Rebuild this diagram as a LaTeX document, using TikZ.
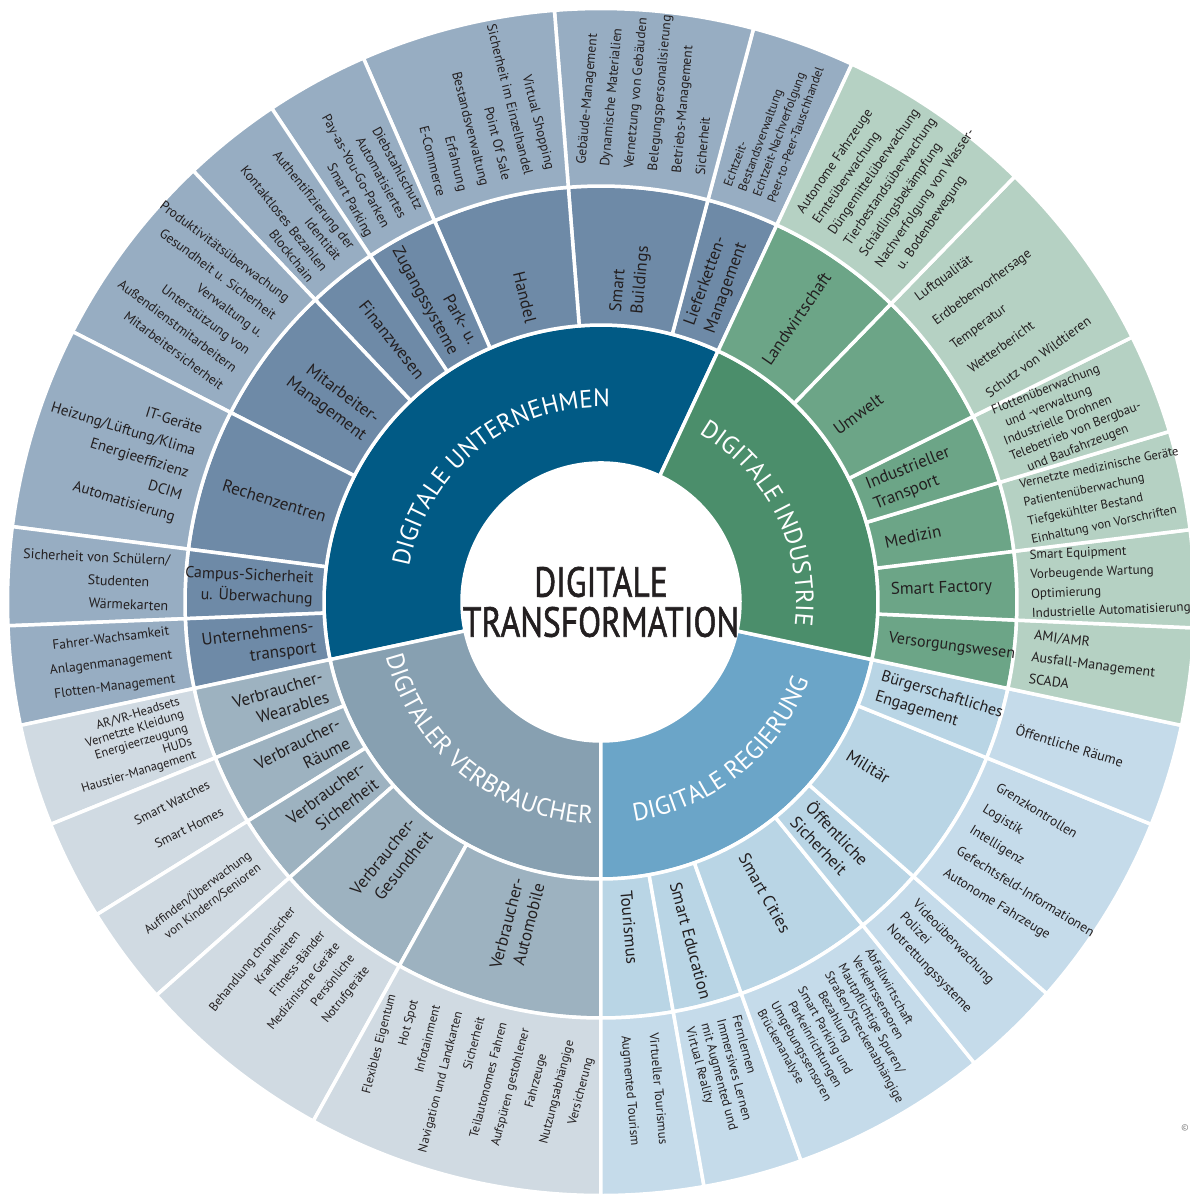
\documentclass[tikz,border=0pt]{standalone}
\usepackage{fontspec}
\setmainfont{PT Sans}
\newfontfamily\ctrfont{PT Sans}[FakeBold=1.5]
\usetikzlibrary{decorations.text}

\definecolor{untA}{HTML}{015A85}
\definecolor{untB}{HTML}{6E8AA7}
\definecolor{untC}{HTML}{97ADC2}
\definecolor{verA}{HTML}{87A0B1}
\definecolor{verB}{HTML}{9DB2C0}
\definecolor{verC}{HTML}{D0DAE2}
\definecolor{regA}{HTML}{6BA5C8}
\definecolor{regB}{HTML}{B9D5E5}
\definecolor{regC}{HTML}{C5DBEA}
\definecolor{indA}{HTML}{4B8E6B}
\definecolor{indB}{HTML}{6CA587}
\definecolor{indC}{HTML}{B5D1C3}
\definecolor{ink}{HTML}{231F20}

\newcommand{\ringpart}[5]{\path[part, fill=#1] (#2:#4) arc[start angle=#2, end angle=#3, radius=#4] -- (#3:#5) arc[start angle=#3, end angle=#2, radius=#5] -- cycle;}
\newcommand{\segpart}[4]{\ringpart{#1}{#3}{#4}{277}{416}\ringpart{#2}{#3}{#4}{416}{593.5}}
\newcommand{\fs}[2]{\fontsize{#1}{#2}\selectfont}

\begin{document}
\begin{tikzpicture}[x=1pt, y=1pt,
    part/.style={draw=white, line width=3.5pt, line join=round},
    quadlbl/.style={decorate, decoration={text along path, text align=center, text color=white}},
    midlbl/.style={text=ink, inner sep=0pt, font=\fs{17}{21.5}},
    midl/.style={midlbl, anchor=east, align=right},
    midr/.style={midlbl, anchor=west, align=left},
    outlbl/.style={text=ink, inner sep=0pt},
    outl/.style={outlbl, anchor=east, align=right},
    outr/.style={outlbl, anchor=west, align=left}]

\useasboundingbox (-601,-593) rectangle (589,602);

% quadrants
\ringpart{untA}{65}{192}{139}{277}
\ringpart{verA}{192}{270}{139}{277}
\ringpart{regA}{270}{348}{139}{277}
\ringpart{indA}{-12}{65}{139}{277}

% Unternehmen
\segpart{untB}{untC}{65}{75.1}
\segpart{untB}{untC}{75.1}{94.5}
\segpart{untB}{untC}{94.5}{113.6}
\segpart{untB}{untC}{113.6}{123.7}
\segpart{untB}{untC}{123.7}{133.4}
\segpart{untB}{untC}{133.4}{152.9}
\segpart{untB}{untC}{152.9}{172.7}
\segpart{untB}{untC}{172.7}{182.3}
\segpart{untB}{untC}{182.3}{192}
% Verbraucher
\segpart{verB}{verC}{192}{202}
\segpart{verB}{verC}{202}{211.8}
\segpart{verB}{verC}{211.8}{221.5}
\segpart{verB}{verC}{221.5}{241}
\segpart{verB}{verC}{241}{270}
% Regierung
\segpart{regB}{regC}{270}{280}
\segpart{regB}{regC}{280}{289.7}
\segpart{regB}{regC}{289.7}{309}
\segpart{regB}{regC}{309}{318.7}
\segpart{regB}{regC}{318.7}{338}
\segpart{regB}{regC}{338}{348}
% Industrie
\segpart{indB}{indC}{-12}{-2.5}
\segpart{indB}{indC}{-2.5}{7}
\segpart{indB}{indC}{7}{16.7}
\segpart{indB}{indC}{16.7}{26.5}
\segpart{indB}{indC}{26.5}{45.8}
\segpart{indB}{indC}{45.8}{65}

% centre
\node[text=ink, font=\ctrfont\fs{42}{40}, align=center] (dtrans) at (0,0)
  {\scalebox{0.8}[1]{DIGITALE}\\\scalebox{0.8}[1]{TRANSFORMATION}};

% quadrant titles
\path[quadlbl, decoration={text={|\fontsize{25}{25}\selectfont|DIGITALE UNTERNEHMEN}}]
  (192:195) arc[start angle=192, end angle=65, radius=195];
\path[quadlbl, decoration={text={|\fontsize{25}{25}\selectfont|DIGITALE INDUSTRIE}}]
  (65:195) arc[start angle=65, end angle=-12, radius=195];
\path[quadlbl, decoration={text={|\fontsize{25}{25}\selectfont|DIGITALER VERBRAUCHER}}]
  (192:222) arc[start angle=192, end angle=270, radius=222];
\path[quadlbl, decoration={text={|\fontsize{25}{25}\selectfont|DIGITALE REGIERUNG}}]
  (270:222) arc[start angle=270, end angle=348, radius=222];

% fields
\node[midr, rotate=70.05] (liefer) at (70.05:290) {Lieferketten-\\Management};
\node[midr, rotate=84.8] (build) at (84.8:290) {Smart\\Buildings};
\node[midl, rotate=104.05-180] (handel) at (104.05:288) {Handel};
\node[midl, rotate=118.65-180] (park) at (118.65:288) {Park- u.\\Zugangssysteme};
\node[midl, rotate=128.55-180] (finanz) at (128.55:288) {Finanzwesen};
\node[midl, rotate=143.15-180] (mitarb) at (143.15:288) {Mitarbeiter-\\Management};
\node[midl, rotate=162.8-180] (rechen) at (162.8:288) {Rechenzentren};
\node[midl, rotate=177.5-180, font=\fs{16}{21}] (campus) at (177.5:288) {Campus-Sicherheit\\u. Überwachung};
\node[midl, rotate=187.15-180] (utrans) at (187.15:288) {Unternehmens-\\transport};
\node[midl, rotate=197-180] (wear) at (197:288) {Verbraucher-\\Wearables};
\node[midl, rotate=206.9-180] (raeume) at (206.9:288) {Verbraucher-\\Räume};
\node[midl, rotate=216.65-180] (vsich) at (216.65:288) {Verbraucher-\\Sicherheit};
\node[midl, rotate=231.25-180] (gesund) at (231.25:288) {Verbraucher-\\Gesundheit};
\node[midl, rotate=255.5-180] (auto) at (255.5:288) {Verbraucher-\\Automobile};
\node[midr, rotate=275] (tour) at (275:290) {Tourismus};
\node[midr, rotate=284.85] (edu) at (284.85:290) {Smart Education};
\node[midr, rotate=299.35] (city) at (299.35:290) {Smart Cities};
\node[midr, rotate=313.85] (osich) at (313.85:290) {Öffentliche\\Sicherheit};
\node[midr, rotate=328.35] (mil) at (328.35:290) {Militär};
\node[midr, rotate=343, font=\fs{16}{21}] (buerger) at (343:290) {Bürgerschaftliches\\Engagement};
\node[midr, rotate=-7.25, font=\fs{16}{21}] (versorg) at (-7.25:290) {Versorgungswesen};
\node[midr, rotate=2.25] (factory) at (2.25:290) {Smart Factory};
\node[midr, rotate=11.85] (medizin) at (11.85:290) {Medizin};
\node[midr, rotate=21.6] (itrans) at (21.6:290) {Industrieller\\Transport};
\node[midr, rotate=36.15] (umwelt) at (36.15:290) {Umwelt};
\node[midr, rotate=55.4] (land) at (55.4:290) {Landwirtschaft};

% applications
\node[outr, rotate=70.05, font=\fs{12.5}{15.5}] (lieferout) at (70.05:434)
  {Echtzeit-\\Bestandsverwaltung\\Echtzeit-Nachverfolgung\\Peer-to-Peer-Tauschhandel};
\node[outr, rotate=84.8, font=\fs{13.5}{24}] (buildout) at (84.8:434)
  {Gebäude-Management\\Dynamische Materialien\\Vernetzung von Gebäuden\\Belegungspersonalisierung\\Betriebs-Management\\Sicherheit};
\node[outl, rotate=104.05-180, font=\fs{13.5}{22.5}] (handelout) at (104.05:432)
  {Virtual Shopping\\Sicherheit im Einzelhandel\\Point Of Sale\\Bestandsverwaltung\\Erfahrung\\E-Commerce};
\node[outl, rotate=118.65-180, font=\fs{13.5}{19}] (parkout) at (118.65:432)
  {Diebstahlschutz\\Automatisiertes\\Pay-as-You-Go-Parken\\Smart Parking};
\node[outl, rotate=128.55-180, font=\fs{13.5}{17.5}] (finanzout) at (128.55:432)
  {Authentifizierung der\\Identität\\Kontaktloses Bezahlen\\Blockchain};
\node[outl, rotate=143.15-180, font=\fs{13.5}{22}] (mitarbout) at (143.15:432)
  {Produktivitätsüberwachung\\Gesundheit u. Sicherheit\\Verwaltung u.\\Unterstützung von\\Außendienstmitarbeitern\\Mitarbeitersicherheit};
\node[outl, rotate=162.8-180, font=\fs{15}{23}] (rechenout) at (162.8:432)
  {IT-Geräte\\Heizung/Lüftung/Klima\\Energieeffizienz\\DCIM\\Automatisierung};
\node[outl, rotate=177.5-180, font=\fs{14}{23}] (campusout) at (177.5:432)
  {Sicherheit von Schülern/\\Studenten\kern20pt\\Wärmekarten};
\node[outl, rotate=187.15-180, font=\fs{13.5}{24}] (utransout) at (187.15:432)
  {Fahrer-Wachsamkeit\\Anlagenmanagement\\Flotten-Management};
\node[outl, rotate=197-180, font=\fs{12.5}{14}] (wearout) at (197:432)
  {AR/VR-Headsets\\Vernetzte Kleidung\\Energieerzeugung\\HUDs\\Haustier-Management};
\node[outl, rotate=206.9-180, font=\fs{13}{30}] (raeumeout) at (206.9:432)
  {Smart Watches\\Smart Homes};
\node[outl, rotate=216.65-180, font=\fs{12.5}{16}] (vsichout) at (216.65:432)
  {Auffinden/Überwachung\\von Kindern/Senioren};
\node[outl, rotate=231.25-180, font=\fs{12.5}{19}] (gesundout) at (231.25:432)
  {Behandlung chronischer\\Krankheiten\kern16pt\\Fitness-Bänder\\Medizinische Geräte\\Persönliche\\Notrufgeräte};
\node[outl, rotate=255.5-180, font=\fs{12.5}{23}] (autoout) at (255.5:432)
  {Flexibles Eigentum\\Hot Spot\\Infotainment\\Navigation und Landkarten\\Sicherheit\\Teilautonomes Fahren\\Aufspüren gestohlener\\Fahrzeuge\kern20pt\\Nutzungsabhängige\\Versicherung\kern12pt};
\node[outr, rotate=275, font=\fs{13}{28}] (tourout) at (275:434)
  {Virtueller Tourismus\\Augmented Tourism};
\node[outr, rotate=284.85, font=\fs{13}{16}] (eduout) at (284.85:434)
  {Fernlernen\\Immersives Lernen\\mit Augmented und\\Virtual Reality};
\node[outr, rotate=299.35, font=\fs{12.5}{15.5}] (cityout) at (299.35:434)
  {Abfallwirtschaft\\Verkehrssensoren\\Mautpflichtige Spuren/\\Straßen/Streckenabhängige\\\hspace*{14pt}Bezahlung\\Smart Parking und\\\hspace*{8pt}Parkeinrichtungen\\Umgebungssensoren\\Brückenanalyse};
\node[outr, rotate=313.85, font=\fs{13.5}{18}] (osichout) at (313.85:434)
  {Videoüberwachung\\Polizei\\Notrettungssysteme};
\node[outr, rotate=328.35, font=\fs{13.5}{25}] (milout) at (328.35:434)
  {Grenzkontrollen\\Logistik\\Intelligenz\\Gefechtsfeld-Informationen\\Autonome Fahrzeuge};
\node[outr, rotate=343, font=\fs{14}{18}] (buergerout) at (343:434)
  {Öffentliche Räume};
\node[outr, rotate=-7.25, font=\fs{14}{22}] (versorgout) at (-7.25:434)
  {AMI/AMR\\Ausfall-Management\\SCADA};
\node[outr, rotate=2.25, font=\fs{13}{19.5}] (factoryout) at (2.25:430)
  {Smart Equipment\\Vorbeugende Wartung\\Optimierung\\Industrielle Automatisierung};
\node[outr, rotate=11.85, font=\fs{12.5}{19}] (medizinout) at (11.85:434)
  {Vernetzte medizinische Geräte\\Patientenüberwachung\\Tiefgekühlter Bestand\\Einhaltung von Vorschriften};
\node[outr, rotate=21.6, font=\fs{13}{16.5}] (itransout) at (21.6:434)
  {Flottenüberwachung\\\hspace*{8pt}und -verwaltung\\Industrielle Drohnen\\Telebetrieb von Bergbau-\\\hspace*{12pt}und Baufahrzeugen};
\node[outr, rotate=36.15, font=\fs{13.5}{30}] (umweltout) at (36.15:434)
  {Luftqualität\\Erdbebenvorhersage\\Temperatur\\Wetterbericht\\Schutz von Wildtieren};
\node[outr, rotate=55.4, font=\fs{13.5}{19}] (landout) at (55.4:434)
  {Autonome Fahrzeuge\\Ernteüberwachung\\Düngemittelüberwachung\\Tierbestandsüberwachung\\Schädlingsbekämpfung\\Nachverfolgung von Wasser-\\\hspace*{10pt}u. Bodenbewegung};

\node[text=gray, font=\fs{9}{9}] (copyr) at (584,-526) {\copyright};
\end{tikzpicture}
\end{document}
